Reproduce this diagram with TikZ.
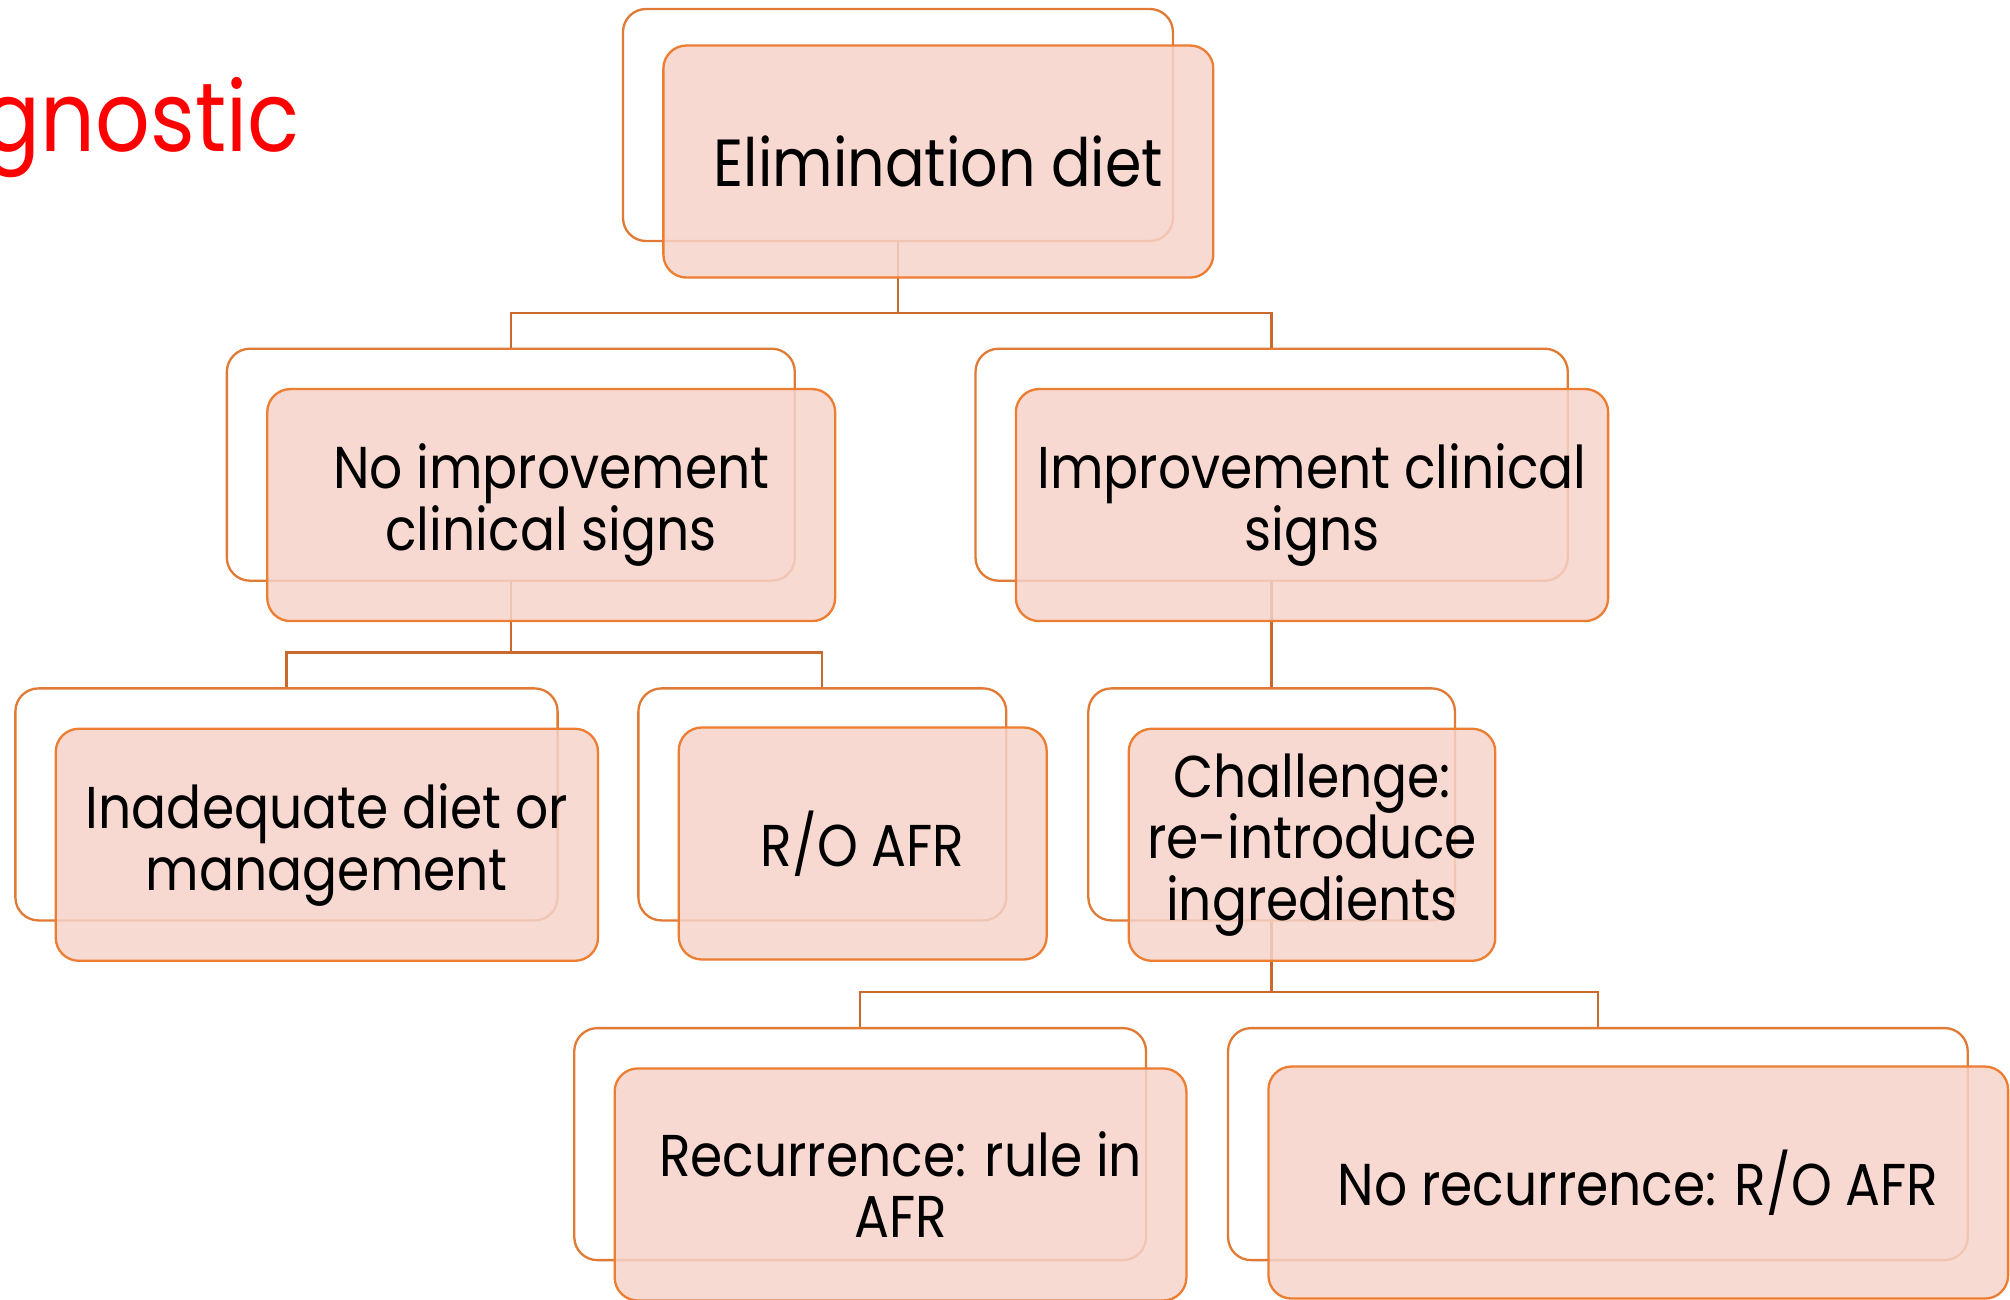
\documentclass[tikz,border=0pt]{standalone}
\usepackage{fontspec}
\setmainfont[FakeStretch=0.88]{Poppins}
\definecolor{orng}{HTML}{ED7D31}
\definecolor{orngback}{HTML}{E07A35}
\definecolor{connc}{HTML}{C96A2C}
\definecolor{pinkfill}{HTML}{F6D3CA}
\definecolor{titlered}{HTML}{FF0000}
\begin{document}
\begin{tikzpicture}[x=0.5pt,y=-0.5pt,
  backbox/.style={draw=orngback, line width=0.9pt, rounded corners=9pt, fill=white, minimum height=90.5pt, inner sep=0pt},
  frontbox/.style={draw=orng, line width=0.9pt, rounded corners=9pt, fill=pinkfill, fill opacity=0.85, text opacity=1, minimum height=90.5pt, inner sep=0pt, align=center, text=black, font=\fontsize{23}{24}\selectfont},
  bigtext/.style={font=\fontsize{26}{27}\selectfont},
  conn/.style={draw=connc, line width=0.9pt},
  titletext/.style={text=titlered, font=\fontsize{38}{40}\selectfont, inner sep=0pt}]
\useasboundingbox (0,0) rectangle (1568,1014);
\node[titletext, anchor=base east] (title) at (234,118) {gnostic};
% back boxes
\node[backbox, minimum width=214.5pt] (b1) at (700.5,97.5) {};
\node[backbox, minimum width=221.5pt] (b2) at (398.5,362.5) {};
\node[backbox, minimum width=231pt] (b3) at (992,362.5) {};
\node[backbox, minimum width=211.5pt] (b4) at (223.5,627.5) {};
\node[backbox, minimum width=143.5pt] (b5) at (641.5,627.5) {};
\node[backbox, minimum width=143pt] (b6) at (992,627.5) {};
\node[backbox, minimum width=223pt] (b7) at (671,892.5) {};
\node[backbox, minimum width=288.5pt] (b8) at (1246.5,892.5) {};
% connectors
\draw[conn] (b1.south) |- ([yshift=13.5pt]b2.north) -- (b2.north);
\draw[conn] (b1.south) |- ([yshift=13.5pt]b3.north) -- (b3.north);
\draw[conn] (b2.south) |- ([yshift=13.5pt]b4.north) -- (b4.north);
\draw[conn] (b2.south) |- ([yshift=13.5pt]b5.north) -- (b5.north);
\draw[conn] (b3.south) -- (b6.north);
\draw[conn] (b6.south) |- ([yshift=13.5pt]b7.north) -- (b7.north);
\draw[conn] (b6.south) |- ([yshift=13.5pt]b8.north) -- (b8.north);
% front boxes
\node[frontbox, bigtext, minimum width=214.5pt] (f1) at (732,126) {Elimination diet};
\node[frontbox, minimum width=221.5pt] (f2) at (430,394) {No improvement\\clinical signs};
\node[frontbox, minimum width=231pt] (f3) at (1023.5,394) {Improvement clinical\\signs};
\node[frontbox, minimum width=211.5pt] (f4) at (255,659) {Inadequate diet or\\management};
\node[frontbox, minimum width=143.5pt] (f5) at (673,658) {R/O AFR};
\node[frontbox, minimum width=143pt] (f6) at (1023.5,659) {Challenge:\\re-introduce\\ingredients};
\node[frontbox, minimum width=223pt] (f7) at (702.5,924) {Recurrence: rule in\\AFR};
\node[frontbox, minimum width=288.5pt] (f8) at (1278,922.5) {No recurrence: R/O AFR};
\end{tikzpicture}
\end{document}
